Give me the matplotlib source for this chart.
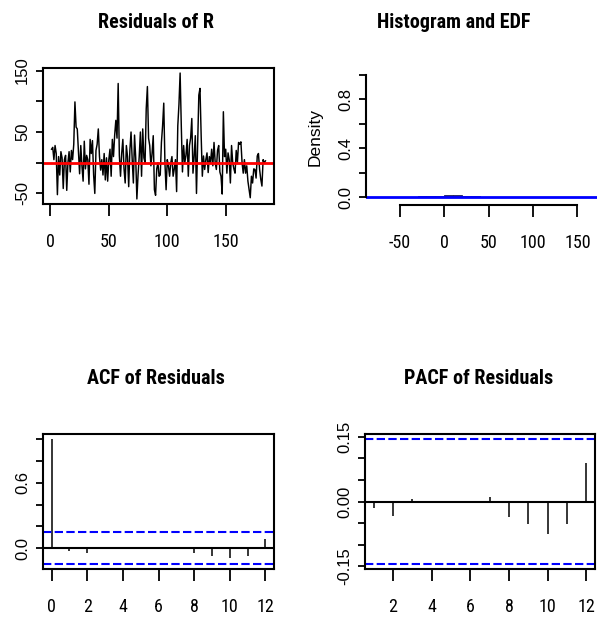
import numpy as np
import matplotlib
matplotlib.use("Agg")
import matplotlib.pyplot as plt
from matplotlib import font_manager as fm

# ---------------- data ----------------
residuals = [
    22, 25, 5, 28, 15, -52, 10, -20, 18, 8,
    -42, 5, 12, -45, 0, 18, -15, 20, 5, 30,
    99, 58, 55, 20, -18, 28, -5, -30, 35, -10,
    12, 5, -35, 38, 15, 36, -20, -50, 20, 30,
    55, 10, -12, 5, -20, 15, -28, 8, -30, 5,
    22, -22, 38, 10, 45, 69, 40, 129, 12, -22,
    15, 38, -10, -33, 28, 10, -39, 20, 50, 5,
    -33, 45, 8, -59, -20, 10, 50, -22, 55, 8,
    0, 88, 124, 40, 28, -5, 15, 44, -44, -53,
    -10, 0, -22, -20, 33, 60, 97, 0, -44, 5,
    -5, -22, 0, 10, -22, -10, 5, -47, 60, 95,
    146, 60, -15, 28, 0, 12, 38, -22, 28, 40,
    72, -17, 10, 44, -50, 30, 110, 121, 44, -22,
    11, -11, 5, 16, -16, 10, 0, 22, -5, 33,
    0, -11, 20, 28, -15, -22, -51, 83, 10, 22,
    -17, 16, 5, -33, 28, 0, -10, -17, 20, 0,
    33, 30, 34, 0, -17, 5, -17, -5, -30, -44,
    -57, -22, -33, -10, -11, -25, 11, 15, -11, -27,
    -38, 5, 0, 3,
]
time_index = np.arange(1, len(residuals) + 1)

acf_lags = list(range(0, 13))
acf_values = [1.0, -0.024, -0.048, 0.005, -0.003, 0.002, -0.002, 0.008,
              -0.048, -0.070, -0.085, -0.067, 0.085]

pacf_lags = list(range(1, 13))
pacf_values = [-0.014, -0.033, 0.006, 0.001, -0.002, 0.002, 0.010,
               -0.036, -0.052, -0.075, -0.052, 0.090]

titles = ["Residuals of R", "Histogram and EDF", "ACF of Residuals", "PACF of Residuals"]

ts_xticks = [0, 50, 100, 150]
ts_yticks = [-50, 0, 50, 100, 150]
ts_ylabels = ["-50", "", "50", "", "150"]

hist_xticks = [-50, 0, 50, 100, 150]
hist_yticks = [0.0, 0.2, 0.4, 0.6, 0.8, 1.0]
hist_ylabels = ["0.0", "", "0.4", "", "0.8", ""]
hist_xlim = [-88, 172]
hist_bins = list(range(-60, 160, 10))

acf_xticks = [0, 2, 4, 6, 8, 10, 12]
acf_yticks = [0.0, 0.2, 0.4, 0.6, 0.8, 1.0]
acf_ylabels = ["0.0", "", "", "0.6", "", ""]

pacf_xticks = [2, 4, 6, 8, 10, 12]
pacf_yticks = [-0.15, -0.10, -0.05, 0.0, 0.05, 0.10, 0.15]
pacf_ylabels = ["-0.15", "", "", "0.00", "", "", "0.15"]

n_obs = len(residuals)
conf_limit = 1.96 / np.sqrt(n_obs)

# ---------------- fonts ----------------
names = {f.name for f in fm.fontManager.ttflist}
narrow_family, narrow_stretch = None, "normal"
for cand in ["Liberation Sans Narrow", "Roboto Condensed", "Open Sans Condensed",
             "Noto Sans Condensed", "DejaVu Sans Condensed"]:
    if cand in names:
        narrow_family = cand
        break
if narrow_family is None:
    narrow_family = "Liberation Sans" if "Liberation Sans" in names else "DejaVu Sans"
rot_family = "Liberation Sans" if "Liberation Sans" in names else "DejaVu Sans"

W, H = 608, 620
fig = plt.figure(figsize=(W / 100, H / 100), dpi=100)
fig.patch.set_facecolor("white")


def rect(l, t, r, b):
    return [l / W, 1 - b / H, (r - l) / W, (b - t) / H]


def rrange(lo, hi):
    d = (hi - lo) * 0.04
    return lo - d, hi + d


PX = 0.72  # points per pixel
XLAB = dict(family=narrow_family, stretch=narrow_stretch, size=13)
YLAB = dict(family=rot_family, size=12)


def style_axes(ax, xticks, yticks, ylabels, box=True):
    if not box:
        ax.spines["top"].set_visible(False)
        ax.spines["right"].set_visible(False)
        ax.spines["bottom"].set_position(("outward", 2))
    ax.set_xticks(xticks)
    ax.set_xticklabels([str(v) for v in xticks], fontdict=XLAB)
    ax.set_yticks(yticks)
    ax.set_yticklabels(ylabels, fontdict=YLAB, rotation=90, va="center", ha="right")
    ax.tick_params(axis="x", direction="out", length=12 * PX, width=1.3, pad=17 * PX, colors="black")
    ax.tick_params(axis="y", direction="out", length=7 * PX, width=1.3, pad=6 * PX, colors="black")
    for lab in ax.get_yticklabels():
        lab.set_va("center")
    for s in ax.spines.values():
        s.set_linewidth(1.5)
        s.set_color("black")


TITLE = dict(family=narrow_family, stretch=narrow_stretch, size=14.5, weight="bold",
             ha="center", va="center")

# ---------------- panel 1: residual time series ----------------
ax1 = fig.add_axes(rect(43, 68, 274, 204))
ax1.plot(time_index, residuals, color="black", lw=1.05)
ax1.axhline(0, color="red", lw=2)
ax1.set_xlim(*rrange(time_index.min(), time_index.max()))
ax1.set_ylim(*rrange(min(residuals), max(residuals)))
style_axes(ax1, ts_xticks, ts_yticks, ts_ylabels)
fig.text(156 / W, 1 - 23 / H, titles[0], **TITLE)

# ---------------- panel 2: histogram ----------------
ax2 = fig.add_axes(rect(366, 70, 597, 202))
ax2.hist(residuals, bins=hist_bins, density=True, facecolor="#202060",
         edgecolor="#202060", lw=0.6)
ax2.axhline(0, color="blue", lw=2)
ax2.set_xlim(*hist_xlim)
ax2.set_ylim(-0.04, 1.04)
style_axes(ax2, hist_xticks, hist_yticks, hist_ylabels, box=False)
ax2.spines["left"].set_bounds(0, 1)
ax2.spines["bottom"].set_bounds(-50, 150)
fig.text(315 / W, 1 - 137 / H, "Density", family=rot_family, size=12.5,
         rotation=90, ha="center", va="center")
fig.text(454 / W, 1 - 23 / H, titles[1], **TITLE)

# ---------------- panel 3: ACF ----------------
ax3 = fig.add_axes(rect(43, 434, 274, 569))
ax3.vlines(acf_lags, 0, acf_values, color="black", lw=1.1)
ax3.axhline(0, color="black", lw=1.5)
for c in (conf_limit, -conf_limit):
    ax3.axhline(c, color="blue", lw=1.5, ls=(0, (4, 1.6)))
ax3.set_xlim(*rrange(min(acf_lags), max(acf_lags)))
ax3.set_ylim(*rrange(min(min(acf_values), -conf_limit), max(max(acf_values), conf_limit)))
style_axes(ax3, acf_xticks, acf_yticks, acf_ylabels)
fig.text(156 / W, 1 - 379 / H, titles[2], **TITLE)

# ---------------- panel 4: PACF ----------------
ax4 = fig.add_axes(rect(365, 434, 595, 569))
ax4.vlines(pacf_lags, 0, pacf_values, color="black", lw=1.1)
ax4.axhline(0, color="black", lw=1.5)
for c in (conf_limit, -conf_limit):
    ax4.axhline(c, color="blue", lw=1.5, ls=(0, (4, 1.6)))
ax4.set_xlim(*rrange(min(pacf_lags), max(pacf_lags)))
ax4.set_ylim(*rrange(min(min(pacf_values), -conf_limit), max(max(pacf_values), conf_limit)))
style_axes(ax4, pacf_xticks, pacf_yticks, pacf_ylabels)
fig.text(479 / W, 1 - 379 / H, titles[3], **TITLE)

fig.savefig("out.png", dpi=100, facecolor="white")
